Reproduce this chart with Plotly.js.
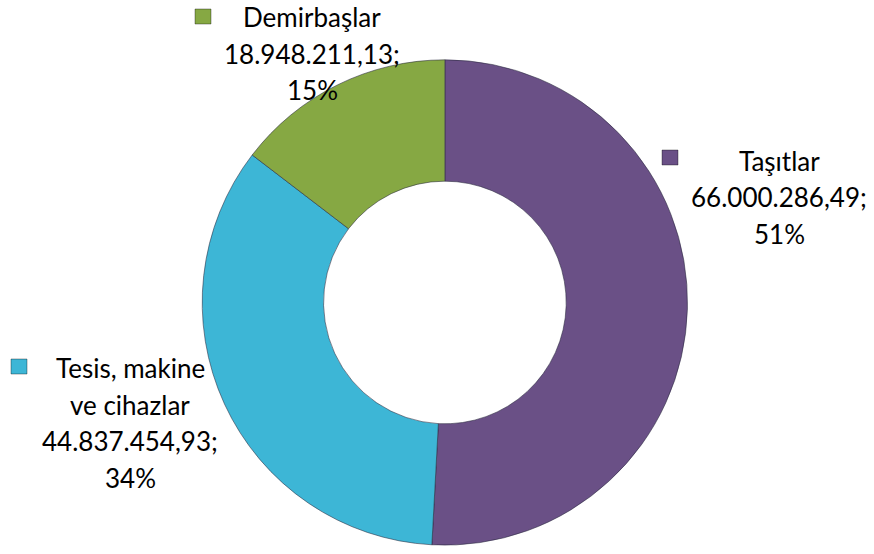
<!DOCTYPE html>
<html>
<head>
<meta charset="utf-8">
<script src="https://cdn.plot.ly/plotly-3.0.1.min.js"></script>
<style>html,body{margin:0;padding:0;background:#fff;}#chart{width:874px;height:554px;}</style>
</head>
<body>
<div id="chart"></div>
<script>
const categories = ["Taşıtlar", "Tesis, makine<br>ve cihazlar", "Demirbaşlar"];
const values = [66000286.49, 44837454.93, 18948211.13];
const percentLabels = ["51%", "34%", "15%"];
const colors = ["#6A5086", "#3DB6D6", "#86A843"];

function fmtTR(v) {
  const parts = v.toFixed(2).split(".");
  const intPart = parts[0].replace(/\B(?=(\d{3})+(?!\d))/g, ".");
  return intPart + "," + parts[1];
}

const trace = {
  type: "pie",
  labels: categories,
  values: values,
  hole: 0.5,
  sort: false,
  direction: "clockwise",
  rotation: 0,
  textinfo: "none",
  hoverinfo: "label+value+percent",
  showlegend: false,
  marker: { colors: colors, line: { color: "rgba(40,40,60,0.55)", width: 1 } },
  domain: { x: [0.231, 0.787], y: [0.016, 0.892] }
};

const font = { family: "Lato, 'Open Sans', sans-serif", size: 26, color: "#000" };
const lineGap = 36.5;
// label block: center x, first line y (pixels); marker square top-left
const labelPos = [
  { x: 779, y: 161, sx: 662, sy: 150 },
  { x: 130, y: 368, sx: 11, sy: 359 },
  { x: 312, y: 17, sx: 195, sy: 9 }
];
const W = 874, H = 554;
const annotations = [];
const shapes = [];
categories.forEach((c, i) => {
  const p = labelPos[i];
  const lines = c.split("<br>").concat([fmtTR(values[i]) + ";", percentLabels[i]]);
  lines.forEach((ln, k) => {
    annotations.push({
      xref: "paper", yref: "paper",
      x: p.x / W, y: 1 - (p.y + k * lineGap) / H,
      xanchor: "center", yanchor: "middle",
      text: ln, showarrow: false, align: "center", font: font, borderpad: 0
    });
  });
  shapes.push({
    type: "rect", xref: "paper", yref: "paper",
    x0: p.sx / W, x1: (p.sx + 16) / W,
    y0: 1 - (p.sy + 15) / H, y1: 1 - p.sy / H,
    fillcolor: colors[i], line: { color: "rgba(0,0,0,0.35)", width: 1 }
  });
});

const layout = {
  width: 874, height: 554,
  margin: { l: 0, r: 0, t: 0, b: 0 },
  paper_bgcolor: "#fff",
  annotations: annotations,
  shapes: shapes
};
Plotly.newPlot("chart", [trace], layout, { displayModeBar: false, staticPlot: true });
</script>
</body>
</html>
